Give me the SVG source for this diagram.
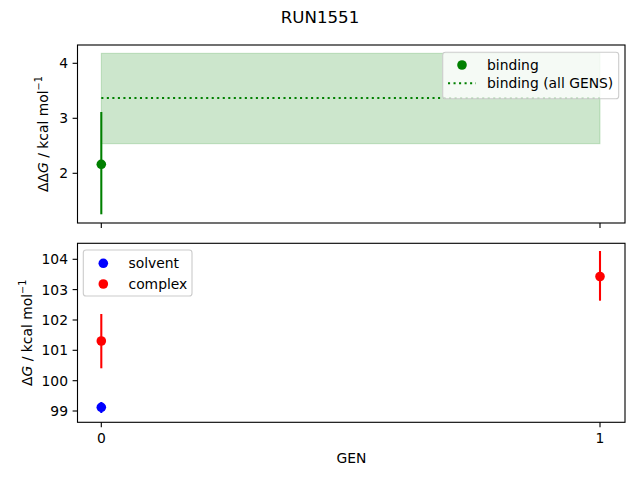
<svg xmlns="http://www.w3.org/2000/svg" width="640" height="480" viewBox="0 0 640 480">
<style>
text{font-family:"DejaVu Sans","Liberation Sans",sans-serif;font-size:13.89px;fill:#000}
.spine{fill:none;stroke:#000;stroke-width:1.11}
.tick{stroke:#000;stroke-width:1.11}
.err{stroke-width:2.08}
.legend{fill:#fff;fill-opacity:0.8;stroke:#cccccc;stroke-width:1.11}
</style>
<rect width="640" height="480" fill="#fff"/>
<text x="320" y="22.5" text-anchor="middle" style="font-size:16.67px">RUN1551</text>

<g id="top-axes">
  <rect x="101.3" y="53.3" width="498.7" height="90.4" fill="#008000" fill-opacity="0.2" stroke="#008000" stroke-opacity="0.2" stroke-width="1"/>
  <line x1="101.3" y1="98" x2="600" y2="98" stroke="#008000" stroke-width="2.08" stroke-dasharray="2.08 3.44"/>
  <rect class="spine" x="77.5" y="45" width="547.5" height="178"/>
  <g class="tick">
    <line x1="72.6" y1="63.3" x2="77.5" y2="63.3"/>
    <line x1="72.6" y1="118.3" x2="77.5" y2="118.3"/>
    <line x1="72.6" y1="173.3" x2="77.5" y2="173.3"/>
    <line x1="101.3" y1="223" x2="101.3" y2="227.9"/>
    <line x1="600" y1="223" x2="600" y2="227.9"/>
  </g>
  <text x="68" y="68.3" text-anchor="end">4</text>
  <text x="68" y="123.3" text-anchor="end">3</text>
  <text x="68" y="178.3" text-anchor="end">2</text>
  <text transform="translate(47.5,134) rotate(-90)" text-anchor="middle">ΔΔ<tspan font-style="italic">G</tspan> / kcal mol<tspan dy="-6" style="font-size:9.7px">−1</tspan></text>
</g>

<g id="binding-point">
  <line class="err" x1="101.3" y1="112" x2="101.3" y2="214.3" stroke="#008000"/>
  <circle cx="101.3" cy="164.3" r="4.8" fill="#008000"/>
</g>

<g id="top-legend">
  <rect class="legend" x="442.7" y="52.3" width="176" height="46.4" rx="2.8"/>
  <circle cx="462" cy="65" r="4.8" fill="#008000"/>
  <line x1="448" y1="83.3" x2="476" y2="83.3" stroke="#008000" stroke-width="2.08" stroke-dasharray="2.08 3.44"/>
  <text x="487" y="70">binding</text>
  <text x="487" y="88.3">binding (all GENS)</text>
</g>

<g id="bottom-axes">
  <rect class="spine" x="77.5" y="243.3" width="547.5" height="179"/>
  <g class="tick">
    <line x1="72.6" y1="411" x2="77.5" y2="411"/>
    <line x1="72.6" y1="380.7" x2="77.5" y2="380.7"/>
    <line x1="72.6" y1="350.3" x2="77.5" y2="350.3"/>
    <line x1="72.6" y1="320" x2="77.5" y2="320"/>
    <line x1="72.6" y1="289.6" x2="77.5" y2="289.6"/>
    <line x1="72.6" y1="259.3" x2="77.5" y2="259.3"/>
    <line x1="101.3" y1="422.3" x2="101.3" y2="427.2"/>
    <line x1="600" y1="422.3" x2="600" y2="427.2"/>
  </g>
  <text x="68" y="416" text-anchor="end">99</text>
  <text x="68" y="385.7" text-anchor="end">100</text>
  <text x="68" y="355.3" text-anchor="end">101</text>
  <text x="68" y="325" text-anchor="end">102</text>
  <text x="68" y="294.6" text-anchor="end">103</text>
  <text x="68" y="264.3" text-anchor="end">104</text>
  <text x="101.3" y="442.5" text-anchor="middle">0</text>
  <text x="600" y="442.5" text-anchor="middle">1</text>
  <text x="351.5" y="462.7" text-anchor="middle">GEN</text>
  <text transform="translate(31.5,332.8) rotate(-90)" text-anchor="middle">Δ<tspan font-style="italic">G</tspan> / kcal mol<tspan dy="-6" style="font-size:9.7px">−1</tspan></text>
</g>

<g id="solvent-point">
  <line class="err" x1="101.3" y1="402" x2="101.3" y2="413" stroke="#0000ff"/>
  <circle cx="101.3" cy="407.3" r="4.8" fill="#0000ff"/>
</g>
<g id="complex-points">
  <line class="err" x1="101.3" y1="314" x2="101.3" y2="368.3" stroke="#ff0000"/>
  <circle cx="101.3" cy="341" r="4.8" fill="#ff0000"/>
  <line class="err" x1="600" y1="251" x2="600" y2="300.7" stroke="#ff0000"/>
  <circle cx="600" cy="276.5" r="4.8" fill="#ff0000"/>
</g>

<g id="bottom-legend">
  <rect class="legend" x="83.3" y="250" width="108.7" height="46" rx="2.8"/>
  <circle cx="103.3" cy="263.3" r="4.8" fill="#0000ff"/>
  <circle cx="103.3" cy="284" r="4.8" fill="#ff0000"/>
  <text x="128.5" y="268.3">solvent</text>
  <text x="128.5" y="289">complex</text>
</g>
</svg>
